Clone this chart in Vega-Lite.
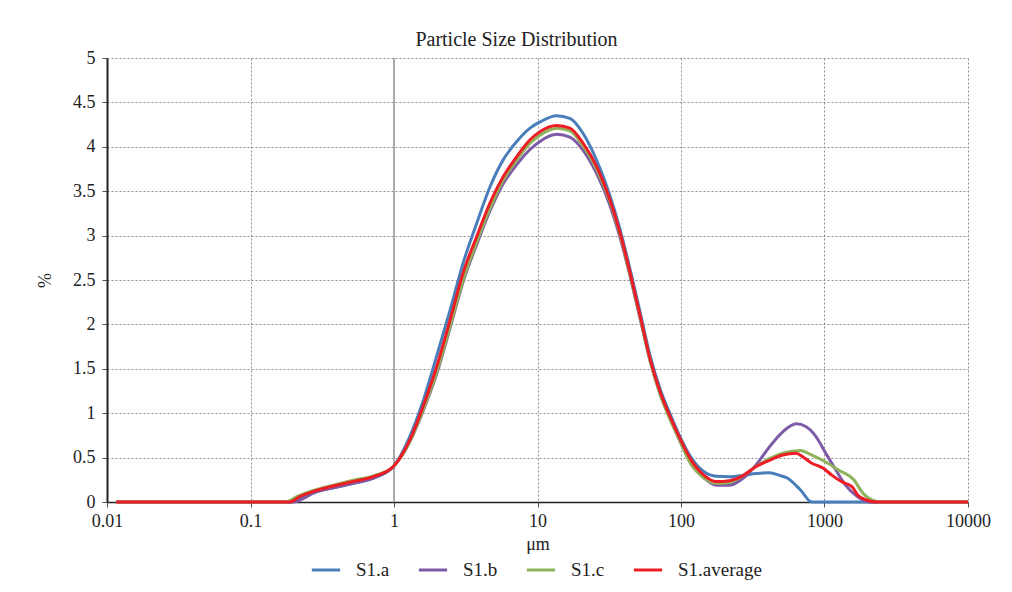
{
  "$schema": "https://vega.github.io/schema/vega-lite/v6.json",
  "width": 861,
  "height": 444,
  "autosize": {"type": "none"},
  "padding": {"left": 107, "top": 58, "right": 44, "bottom": 90},
  "background": "white",
  "title": {
    "text": "Particle Size Distribution",
    "font": "Liberation Serif",
    "fontSize": 20,
    "fontWeight": "normal",
    "color": "#222222",
    "anchor": "middle",
    "dx": -21,
    "offset": -1
  },
  "config": {
    "font": "Liberation Serif",
    "view": {"stroke": null},
    "axis": {
      "labelFont": "Liberation Serif",
      "labelFontSize": 18,
      "labelColor": "#222222",
      "labelFlush": false,
      "titleFont": "Liberation Serif",
      "titleFontSize": 18,
      "titleFontWeight": "normal",
      "titleColor": "#222222",
      "gridColor": "#8f8f8f",
      "gridDash": [2, 2],
      "gridWidth": 1,
      "tickColor": "#555555",
      "tickSize": 5,
      "domainColor": "#222222"
    },
    "legend": {
      "labelFont": "Liberation Serif",
      "labelFontSize": 19,
      "labelColor": "#222222"
    }
  },
  "layer": [
    {
      "data": {"values": [{"x": 1}]},
      "mark": {"type": "rule", "color": "#aaaaaa", "strokeWidth": 2},
      "encoding": {
        "x": {"field": "x", "type": "quantitative", "scale": {"type": "log", "domain": [0.01, 10000]}}
      }
    },
    {
      "data": {
        "values": [
          {"s": "S1.a", "x": 0.0116, "y": 0},
          {"s": "S1.a", "x": 0.05, "y": 0},
          {"s": "S1.a", "x": 0.1, "y": 0},
          {"s": "S1.a", "x": 0.15, "y": 0},
          {"s": "S1.a", "x": 0.19, "y": 0},
          {"s": "S1.a", "x": 0.22, "y": 0.05},
          {"s": "S1.a", "x": 0.274, "y": 0.11},
          {"s": "S1.a", "x": 0.378, "y": 0.16},
          {"s": "S1.a", "x": 0.52, "y": 0.21},
          {"s": "S1.a", "x": 0.72, "y": 0.27},
          {"s": "S1.a", "x": 0.99, "y": 0.4},
          {"s": "S1.a", "x": 1.29, "y": 0.74},
          {"s": "S1.a", "x": 1.59, "y": 1.13},
          {"s": "S1.a", "x": 1.98, "y": 1.64},
          {"s": "S1.a", "x": 2.46, "y": 2.16},
          {"s": "S1.a", "x": 3.03, "y": 2.69},
          {"s": "S1.a", "x": 3.77, "y": 3.14},
          {"s": "S1.a", "x": 4.67, "y": 3.55},
          {"s": "S1.a", "x": 5.75, "y": 3.85},
          {"s": "S1.a", "x": 7.17, "y": 4.06},
          {"s": "S1.a", "x": 8.87, "y": 4.21},
          {"s": "S1.a", "x": 10.4, "y": 4.28},
          {"s": "S1.a", "x": 13.6, "y": 4.35},
          {"s": "S1.a", "x": 16.8, "y": 4.32},
          {"s": "S1.a", "x": 20.8, "y": 4.15},
          {"s": "S1.a", "x": 25.8, "y": 3.85},
          {"s": "S1.a", "x": 32, "y": 3.45},
          {"s": "S1.a", "x": 37.6, "y": 3.07},
          {"s": "S1.a", "x": 44.2, "y": 2.62},
          {"s": "S1.a", "x": 52, "y": 2.13},
          {"s": "S1.a", "x": 61.1, "y": 1.64},
          {"s": "S1.a", "x": 71.9, "y": 1.26},
          {"s": "S1.a", "x": 84.5, "y": 0.98},
          {"s": "S1.a", "x": 99.4, "y": 0.72},
          {"s": "S1.a", "x": 116.8, "y": 0.51},
          {"s": "S1.a", "x": 145, "y": 0.34},
          {"s": "S1.a", "x": 176, "y": 0.29},
          {"s": "S1.a", "x": 218, "y": 0.285},
          {"s": "S1.a", "x": 272, "y": 0.3},
          {"s": "S1.a", "x": 334, "y": 0.32},
          {"s": "S1.a", "x": 413, "y": 0.33},
          {"s": "S1.a", "x": 485, "y": 0.3},
          {"s": "S1.a", "x": 550, "y": 0.27},
          {"s": "S1.a", "x": 680, "y": 0.135},
          {"s": "S1.a", "x": 815, "y": 0},
          {"s": "S1.a", "x": 2000, "y": 0},
          {"s": "S1.a", "x": 10000, "y": 0},

          {"s": "S1.b", "x": 0.0116, "y": 0},
          {"s": "S1.b", "x": 0.05, "y": 0},
          {"s": "S1.b", "x": 0.1, "y": 0},
          {"s": "S1.b", "x": 0.15, "y": 0},
          {"s": "S1.b", "x": 0.2, "y": 0},
          {"s": "S1.b", "x": 0.24, "y": 0.05},
          {"s": "S1.b", "x": 0.274, "y": 0.1},
          {"s": "S1.b", "x": 0.378, "y": 0.16},
          {"s": "S1.b", "x": 0.52, "y": 0.21},
          {"s": "S1.b", "x": 0.72, "y": 0.27},
          {"s": "S1.b", "x": 0.99, "y": 0.4},
          {"s": "S1.b", "x": 1.29, "y": 0.68},
          {"s": "S1.b", "x": 1.59, "y": 1.02},
          {"s": "S1.b", "x": 1.98, "y": 1.44},
          {"s": "S1.b", "x": 2.46, "y": 1.96},
          {"s": "S1.b", "x": 3.03, "y": 2.48},
          {"s": "S1.b", "x": 3.77, "y": 2.9},
          {"s": "S1.b", "x": 4.67, "y": 3.28},
          {"s": "S1.b", "x": 5.75, "y": 3.58},
          {"s": "S1.b", "x": 7.17, "y": 3.8},
          {"s": "S1.b", "x": 8.87, "y": 3.97},
          {"s": "S1.b", "x": 10.4, "y": 4.06},
          {"s": "S1.b", "x": 13.6, "y": 4.14},
          {"s": "S1.b", "x": 16.8, "y": 4.11},
          {"s": "S1.b", "x": 20.8, "y": 3.96},
          {"s": "S1.b", "x": 25.8, "y": 3.7},
          {"s": "S1.b", "x": 32, "y": 3.34},
          {"s": "S1.b", "x": 37.6, "y": 2.98},
          {"s": "S1.b", "x": 44.2, "y": 2.54},
          {"s": "S1.b", "x": 52, "y": 2.06},
          {"s": "S1.b", "x": 61.1, "y": 1.58},
          {"s": "S1.b", "x": 71.9, "y": 1.21},
          {"s": "S1.b", "x": 84.5, "y": 0.93},
          {"s": "S1.b", "x": 99.4, "y": 0.67},
          {"s": "S1.b", "x": 116.8, "y": 0.44},
          {"s": "S1.b", "x": 145, "y": 0.27},
          {"s": "S1.b", "x": 176, "y": 0.19},
          {"s": "S1.b", "x": 218, "y": 0.19},
          {"s": "S1.b", "x": 272, "y": 0.27},
          {"s": "S1.b", "x": 334, "y": 0.42},
          {"s": "S1.b", "x": 413, "y": 0.62},
          {"s": "S1.b", "x": 512, "y": 0.79},
          {"s": "S1.b", "x": 636, "y": 0.88},
          {"s": "S1.b", "x": 740, "y": 0.85},
          {"s": "S1.b", "x": 870, "y": 0.74},
          {"s": "S1.b", "x": 1020, "y": 0.55},
          {"s": "S1.b", "x": 1200, "y": 0.36},
          {"s": "S1.b", "x": 1400, "y": 0.19},
          {"s": "S1.b", "x": 1700, "y": 0.06},
          {"s": "S1.b", "x": 2100, "y": 0},
          {"s": "S1.b", "x": 5000, "y": 0},
          {"s": "S1.b", "x": 10000, "y": 0},

          {"s": "S1.c", "x": 0.0116, "y": 0},
          {"s": "S1.c", "x": 0.05, "y": 0},
          {"s": "S1.c", "x": 0.1, "y": 0},
          {"s": "S1.c", "x": 0.15, "y": 0},
          {"s": "S1.c", "x": 0.175, "y": 0},
          {"s": "S1.c", "x": 0.21, "y": 0.06},
          {"s": "S1.c", "x": 0.274, "y": 0.13},
          {"s": "S1.c", "x": 0.378, "y": 0.19},
          {"s": "S1.c", "x": 0.52, "y": 0.245},
          {"s": "S1.c", "x": 0.72, "y": 0.295},
          {"s": "S1.c", "x": 0.99, "y": 0.4},
          {"s": "S1.c", "x": 1.29, "y": 0.68},
          {"s": "S1.c", "x": 1.59, "y": 1.03},
          {"s": "S1.c", "x": 1.98, "y": 1.46},
          {"s": "S1.c", "x": 2.46, "y": 1.98},
          {"s": "S1.c", "x": 3.03, "y": 2.5},
          {"s": "S1.c", "x": 3.77, "y": 2.93},
          {"s": "S1.c", "x": 4.67, "y": 3.31},
          {"s": "S1.c", "x": 5.75, "y": 3.62},
          {"s": "S1.c", "x": 7.17, "y": 3.85},
          {"s": "S1.c", "x": 8.87, "y": 4.04},
          {"s": "S1.c", "x": 10.4, "y": 4.13},
          {"s": "S1.c", "x": 13.6, "y": 4.21},
          {"s": "S1.c", "x": 16.8, "y": 4.18},
          {"s": "S1.c", "x": 20.8, "y": 4.01},
          {"s": "S1.c", "x": 25.8, "y": 3.75},
          {"s": "S1.c", "x": 32, "y": 3.38},
          {"s": "S1.c", "x": 37.6, "y": 3.01},
          {"s": "S1.c", "x": 44.2, "y": 2.56},
          {"s": "S1.c", "x": 52, "y": 2.07},
          {"s": "S1.c", "x": 61.1, "y": 1.58},
          {"s": "S1.c", "x": 71.9, "y": 1.2},
          {"s": "S1.c", "x": 84.5, "y": 0.92},
          {"s": "S1.c", "x": 99.4, "y": 0.67},
          {"s": "S1.c", "x": 116.8, "y": 0.43},
          {"s": "S1.c", "x": 145, "y": 0.27},
          {"s": "S1.c", "x": 176, "y": 0.21},
          {"s": "S1.c", "x": 218, "y": 0.22},
          {"s": "S1.c", "x": 272, "y": 0.3},
          {"s": "S1.c", "x": 334, "y": 0.4},
          {"s": "S1.c", "x": 413, "y": 0.49},
          {"s": "S1.c", "x": 512, "y": 0.55},
          {"s": "S1.c", "x": 680, "y": 0.58},
          {"s": "S1.c", "x": 810, "y": 0.53},
          {"s": "S1.c", "x": 1020, "y": 0.45},
          {"s": "S1.c", "x": 1250, "y": 0.36},
          {"s": "S1.c", "x": 1600, "y": 0.25},
          {"s": "S1.c", "x": 1850, "y": 0.1},
          {"s": "S1.c", "x": 2150, "y": 0.02},
          {"s": "S1.c", "x": 2500, "y": 0},
          {"s": "S1.c", "x": 5000, "y": 0},
          {"s": "S1.c", "x": 10000, "y": 0},

          {"s": "S1.average", "x": 0.0116, "y": 0},
          {"s": "S1.average", "x": 0.05, "y": 0},
          {"s": "S1.average", "x": 0.1, "y": 0},
          {"s": "S1.average", "x": 0.15, "y": 0},
          {"s": "S1.average", "x": 0.188, "y": 0},
          {"s": "S1.average", "x": 0.22, "y": 0.06},
          {"s": "S1.average", "x": 0.274, "y": 0.12},
          {"s": "S1.average", "x": 0.378, "y": 0.18},
          {"s": "S1.average", "x": 0.52, "y": 0.23},
          {"s": "S1.average", "x": 0.72, "y": 0.285},
          {"s": "S1.average", "x": 0.99, "y": 0.4},
          {"s": "S1.average", "x": 1.29, "y": 0.7},
          {"s": "S1.average", "x": 1.59, "y": 1.07},
          {"s": "S1.average", "x": 1.98, "y": 1.52},
          {"s": "S1.average", "x": 2.46, "y": 2.05},
          {"s": "S1.average", "x": 3.03, "y": 2.58},
          {"s": "S1.average", "x": 3.77, "y": 2.99},
          {"s": "S1.average", "x": 4.67, "y": 3.37},
          {"s": "S1.average", "x": 5.75, "y": 3.66},
          {"s": "S1.average", "x": 7.17, "y": 3.89},
          {"s": "S1.average", "x": 8.87, "y": 4.08},
          {"s": "S1.average", "x": 10.4, "y": 4.17},
          {"s": "S1.average", "x": 13.6, "y": 4.24},
          {"s": "S1.average", "x": 16.8, "y": 4.21},
          {"s": "S1.average", "x": 20.8, "y": 4.04},
          {"s": "S1.average", "x": 25.8, "y": 3.78},
          {"s": "S1.average", "x": 32, "y": 3.4},
          {"s": "S1.average", "x": 37.6, "y": 3.03},
          {"s": "S1.average", "x": 44.2, "y": 2.58},
          {"s": "S1.average", "x": 52, "y": 2.09},
          {"s": "S1.average", "x": 61.1, "y": 1.6},
          {"s": "S1.average", "x": 71.9, "y": 1.23},
          {"s": "S1.average", "x": 84.5, "y": 0.95},
          {"s": "S1.average", "x": 99.4, "y": 0.7},
          {"s": "S1.average", "x": 116.8, "y": 0.48},
          {"s": "S1.average", "x": 145, "y": 0.3},
          {"s": "S1.average", "x": 176, "y": 0.23},
          {"s": "S1.average", "x": 218, "y": 0.24},
          {"s": "S1.average", "x": 272, "y": 0.3},
          {"s": "S1.average", "x": 334, "y": 0.4},
          {"s": "S1.average", "x": 413, "y": 0.47},
          {"s": "S1.average", "x": 512, "y": 0.53},
          {"s": "S1.average", "x": 636, "y": 0.55},
          {"s": "S1.average", "x": 705, "y": 0.51},
          {"s": "S1.average", "x": 810, "y": 0.44},
          {"s": "S1.average", "x": 980, "y": 0.38},
          {"s": "S1.average", "x": 1130, "y": 0.3},
          {"s": "S1.average", "x": 1310, "y": 0.23},
          {"s": "S1.average", "x": 1560, "y": 0.17},
          {"s": "S1.average", "x": 1700, "y": 0.08},
          {"s": "S1.average", "x": 1980, "y": 0.02},
          {"s": "S1.average", "x": 2300, "y": 0},
          {"s": "S1.average", "x": 5000, "y": 0},
          {"s": "S1.average", "x": 10000, "y": 0}
        ]
      },
      "mark": {"type": "line", "strokeWidth": 3, "interpolate": "monotone"},
      "encoding": {
        "x": {
          "field": "x",
          "type": "quantitative",
          "scale": {"type": "log", "domain": [0.01, 10000]},
          "axis": {
            "title": "μm",
            "values": [0.01, 0.1, 1, 10, 100, 1000, 10000],
            "format": "~g",
            "labelPadding": 5,
            "titlePadding": 5,
            "domainWidth": 1.5
          }
        },
        "y": {
          "field": "y",
          "type": "quantitative",
          "scale": {"domain": [0, 5], "nice": false, "zero": true},
          "axis": {
            "title": "%",
            "values": [0, 0.5, 1, 1.5, 2, 2.5, 3, 3.5, 4, 4.5, 5],
            "format": "~g",
            "labelPadding": 7,
            "titlePadding": 18,
            "domainWidth": 2
          }
        },
        "color": {
          "field": "s",
          "type": "nominal",
          "sort": ["S1.a", "S1.b", "S1.c", "S1.average"],
          "scale": {
            "domain": ["S1.a", "S1.b", "S1.c", "S1.average"],
            "range": ["#4a7ebb", "#7d5ba6", "#8fb35a", "#ee1c25"]
          },
          "legend": {
            "title": null,
            "orient": "none",
            "direction": "horizontal",
            "legendX": 203,
            "legendY": 496,
            "symbolType": "stroke",
            "symbolSize": 800,
            "symbolStrokeWidth": 3,
            "labelOffset": 14,
            "columnPadding": 22
          }
        }
      }
    }
  ]
}
